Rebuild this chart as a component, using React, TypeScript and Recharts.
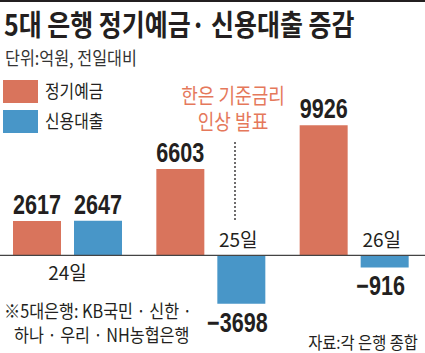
import React from "react";
import { BarChart, Bar, XAxis, YAxis, ReferenceLine, LabelList } from "recharts";

// 단위: 억원, 전일대비
const days = ["24일", "25일", "26일"];
const deposits = [2617, 6603, 9926];
const loans = [2647, -3698, -916];

const data = days.map((day, i) => ({ day, deposit: deposits[i], loan: loans[i] }));

const RED = "#d9745c";
const BLUE = "#4896c8";
const INK = "#231f20";
const NOTE = "#e5785b";
const KR = "'Noto Sans CJK KR', 'Noto Sans', sans-serif";
const NUM = "'Liberation Sans', Arial, sans-serif";

const fmt = (v: number) => (v < 0 ? `\u2212${Math.abs(v)}` : `${v}`);

function box(props: any) {
  const vb = props.viewBox ?? {};
  const x = props.x ?? vb.x;
  const y = props.y ?? vb.y;
  const width = props.width ?? vb.width;
  const height = props.height ?? vb.height;
  return { x, y, width, height, top: Math.min(y, y + height), bottom: Math.max(y, y + height) };
}

// condensed numbers: squeeze horizontally around the anchor point
function NumText({ x, y, children }: any) {
  return (
    <text
      transform={`translate(${x},${y}) scale(0.8,1)`}
      textAnchor="middle"
      style={{ fontFamily: NUM, fontSize: 27, fontWeight: 700, fill: INK }}
    >
      {children}
    </text>
  );
}

function ValueLabel(props: any) {
  const { x, width, top, bottom } = box(props);
  const value = Number(props.value);
  const cx = x + width / 2;
  if (value >= 0) return <NumText x={cx} y={top - 7}>{fmt(value)}</NumText>;
  return <NumText x={cx - 4} y={bottom + 28}>{fmt(value)}</NumText>;
}

// date label: above the loan bar when it dips below zero, otherwise under the group
function DayLabel(props: any) {
  const { x, width, top, bottom } = box(props);
  const value = Number(props.value);
  const label = days[props.index] ?? "";
  const style = { fontFamily: KR, fontSize: 19, fill: INK };
  if (value >= 0) {
    return (
      <text x={x - 6.5} y={bottom + 25} textAnchor="middle" style={style}>
        {label}
      </text>
    );
  }
  return (
    <text x={x + width / 2 - 3} y={top - 8} textAnchor="middle" style={style}>
      {label}
    </text>
  );
}

function Txt({ x, y, size, color = INK, weight = 400, scale = 0.88, children }: any) {
  return (
    <div
      style={{
        position: "absolute",
        left: x,
        top: y,
        fontSize: size,
        fontWeight: weight,
        color,
        lineHeight: 1,
        whiteSpace: "nowrap",
        transform: `scaleX(${scale})`,
        transformOrigin: "left top",
      }}
    >
      {children}
    </div>
  );
}

function Note({ y, children }: any) {
  return (
    <div
      style={{
        position: "absolute",
        left: 153,
        top: y,
        width: 160,
        textAlign: "center",
        fontSize: 21,
        lineHeight: 1,
        color: NOTE,
        whiteSpace: "nowrap",
        transform: "scaleX(0.86)",
        transformOrigin: "center top",
      }}
    >
      {children}
    </div>
  );
}

export default function App() {
  return (
    <div
      style={{
        position: "absolute",
        left: 0,
        top: 0,
        width: 425,
        height: 353,
        background: "#fff",
        overflow: "hidden",
        fontFamily: KR,
      }}
    >
      <div style={{ position: "absolute", left: 0, top: 0, width: 425, height: 2, background: INK }} />

      <BarChart
        width={425}
        height={353}
        data={data}
        margin={{ top: 72, right: -1, bottom: 19, left: -4 }}
        barSize={48}
        barGap={13}
        style={{ position: "absolute", left: 0, top: 0 }}
      >
        <XAxis dataKey="day" hide />
        <YAxis hide domain={[-6000, 14000]} />
        <Bar dataKey="deposit" fill={RED} isAnimationActive={false}>
          <LabelList dataKey="deposit" content={ValueLabel} />
        </Bar>
        <Bar dataKey="loan" fill={BLUE} isAnimationActive={false}>
          <LabelList dataKey="loan" content={ValueLabel} />
          <LabelList dataKey="loan" content={DayLabel} />
        </Bar>
        <ReferenceLine y={0} stroke="#444" strokeWidth={1.2} />
        <ReferenceLine
          segment={[
            { x: "25일", y: 8650 },
            { x: "25일", y: 2700 },
          ]}
          shape={(p: any) => (
            <line
              x1={p.x1 + 24}
              y1={p.y1}
              x2={p.x2 + 24}
              y2={p.y2}
              stroke={INK}
              strokeWidth={1.3}
              strokeDasharray="2 2"
            />
          )}
        />
      </BarChart>

      <Txt x={4} y={9} size={29} weight={700} scale={0.86}>
        5대 은행 정기예금· 신용대출 증감
      </Txt>
      <Txt x={5} y={48} size={18} color="#333" scale={0.9}>
        단위:억원, 전일대비
      </Txt>

      <div style={{ position: "absolute", left: 3, top: 80, width: 35, height: 23, background: RED }} />
      <Txt x={45} y={81} size={18}>정기예금</Txt>
      <div style={{ position: "absolute", left: 3, top: 110, width: 35, height: 23, background: BLUE }} />
      <Txt x={45} y={111} size={18}>신용대출</Txt>

      <Note y={84}>한은 기준금리</Note>
      <Note y={110}>인상 발표</Note>

      <Txt x={4} y={301} size={18} scale={0.9}>
        ※5대은행: KB국민 · 신한 ·
      </Txt>
      <Txt x={14} y={325} size={18} scale={0.9}>
        하나 · 우리 · NH농협은행
      </Txt>
      <div
        style={{
          position: "absolute",
          right: 7,
          top: 333,
          fontSize: 17,
          lineHeight: 1,
          color: INK,
          whiteSpace: "nowrap",
          transform: "scaleX(0.9)",
          transformOrigin: "right top",
        }}
      >
        자료:각 은행 종합
      </div>
    </div>
  );
}
